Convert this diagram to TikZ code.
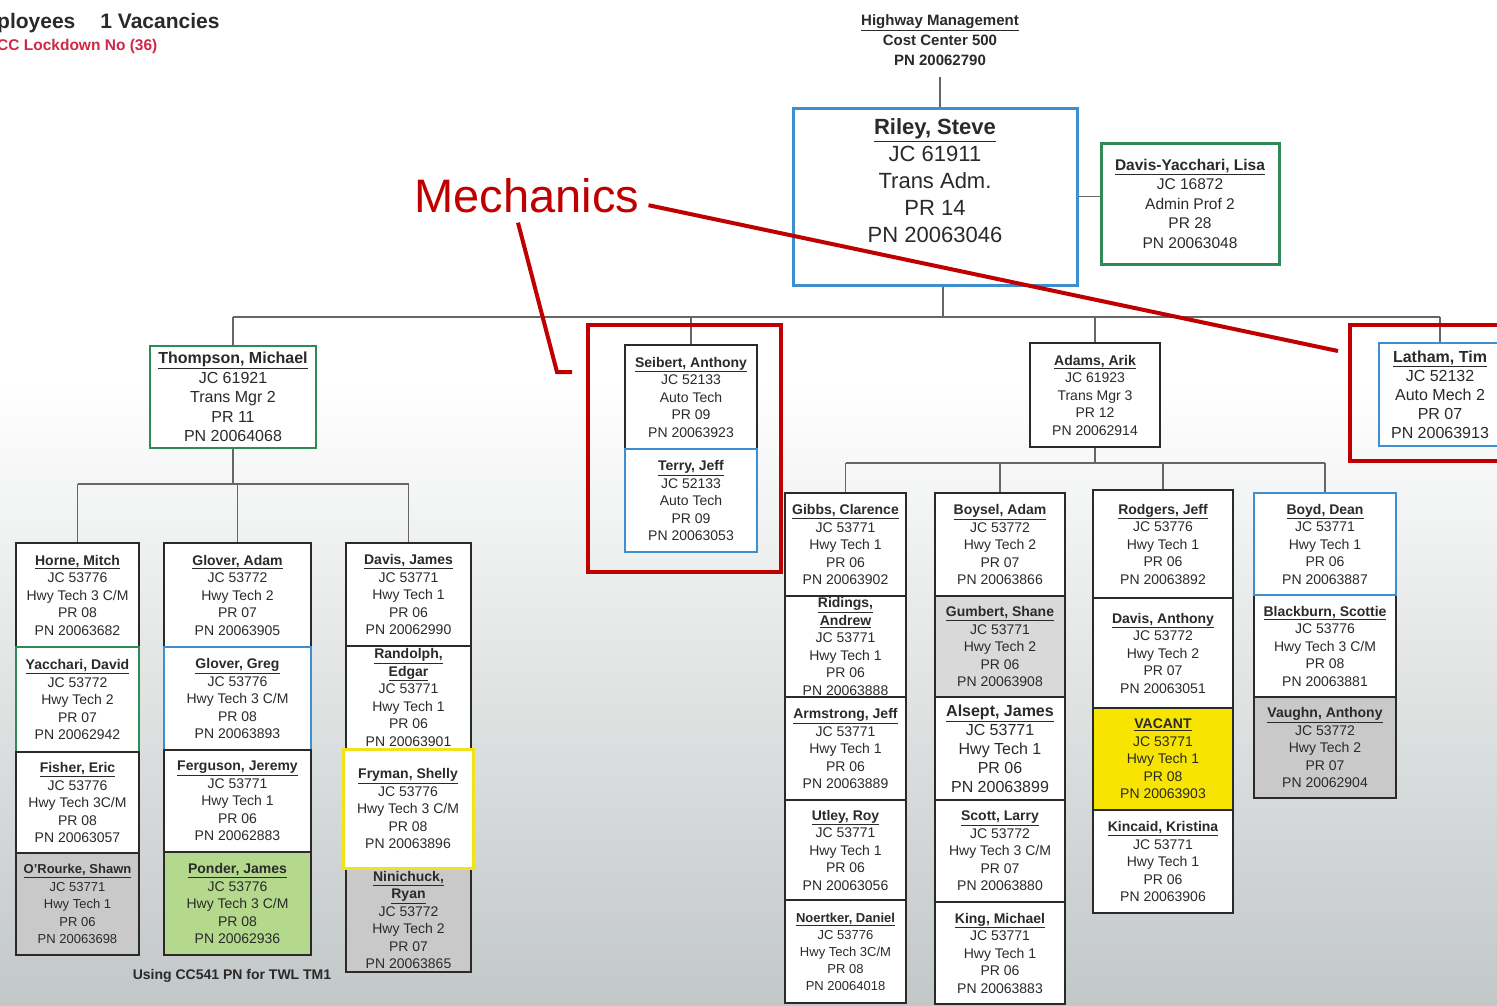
\documentclass[tikz,border=0pt]{standalone}
\usepackage{fontspec}
\setmainfont{Liberation Sans}
\usetikzlibrary{positioning}
\definecolor{boxblue}{HTML}{3D8FD1}
\definecolor{boxgreen}{HTML}{2E8B57}
\definecolor{boxyellow}{HTML}{F2E21C}
\definecolor{vacantfill}{HTML}{F7E400}
\definecolor{greenfill}{HTML}{B5D98C}
\definecolor{greyfill}{HTML}{C9C9C9}
\definecolor{markred}{HTML}{C00000}
\definecolor{bggrey}{HTML}{C2C7C7}
\definecolor{inkgrey}{HTML}{2A2A2A}
\definecolor{lockred}{HTML}{D02848}
\newcommand{\nm}[1]{\textbf{\underline{#1}}}
\tikzset{
    person/.style={
        rectangle, draw=inkgrey, line width=2.5pt,
        fill=white, inner sep=0pt, align=center, text=inkgrey,
        font=\fontsize{14}{17.5}\selectfont
    },
    bluebox/.style={person, draw=boxblue},
    greenbox/.style={person, draw=boxgreen},
    yellowbox/.style={person, draw=boxyellow, line width=3pt},
    greybox/.style={person, fill=greyfill},
    link/.style={draw=black!60, line width=1.2pt},
    frame/.style={rectangle, draw=markred, line width=4pt, inner sep=0pt},
    pointer/.style={draw=markred, line width=4pt}
}

\begin{document}
\begin{tikzpicture}[x=1pt, y=-1pt]

% Page
\clip (0,0) rectangle (1497,1005);
\fill[white] (0,0) rectangle (1497,1005);
\shade[top color=white, bottom color=bggrey] (0,380) rectangle (1497,1005);

% Heading
\node[font=\bfseries\fontsize{21}{25}\selectfont, text=inkgrey, anchor=base west, inner sep=0pt] (count) at (-3,28) {ployees\hspace{25pt}1 Vacancies};
\node[font=\bfseries\fontsize{15.5}{18}\selectfont, text=lockred, anchor=base west, inner sep=0pt] (lock) at (-3,50) {CC Lockdown No (36)};
\node[font=\bfseries\fontsize{15}{20}\selectfont, text=inkgrey, align=center] (hdr) at (940,40) {\underline{Highway Management}\\Cost Center 500\\PN 20062790};

% Administrator
\node[person, draw=boxblue, line width=3pt, minimum width=284pt, minimum height=177pt] (riley) at (935,196.5) {};
\node[align=center, text=inkgrey, font=\fontsize{22}{27}\selectfont] at (935,181) {\nm{Riley, Steve}\\JC 61911\\Trans Adm.\\PR 14\\PN 20063046};
\node[greenbox, line width=3pt, minimum width=178pt, minimum height=121pt, font=\fontsize{15.5}{19.5}\selectfont] (davisY) at (1190,203.5) {\nm{Davis-Yacchari, Lisa}\\JC 16872\\Admin Prof 2\\PR 28\\PN 20063048};

\draw[link] ([yshift=-8pt]hdr.south) -- (hdr.south |- riley.north);
\draw[link] (riley.east) -- (riley.east -| davisY.west);

% Managers
\coordinate (topbar) at (943,317);
\node[greenbox, minimum width=166pt, minimum height=102pt, font=\fontsize{16}{19.5}\selectfont] (thompson) at (233,397) {\nm{Thompson, Michael}\\JC 61921\\Trans Mgr 2\\PR 11\\PN 20064068};
\node[person, minimum width=132pt, minimum height=104pt] (seibert) at (691,397) {\nm{Seibert, Anthony}\\JC 52133\\Auto Tech\\PR 09\\PN 20063923};
\node[bluebox, minimum width=132pt, minimum height=103pt] (terry) at (691,500.5) {\nm{Terry, Jeff}\\JC 52133\\Auto Tech\\PR 09\\PN 20063053};
\node[person, minimum width=130pt, minimum height=104pt] (adams) at (1095,395) {\nm{Adams, Arik}\\JC 61923\\Trans Mgr 3\\PR 12\\PN 20062914};
\node[bluebox, minimum width=122pt, minimum height=103pt, font=\fontsize{16}{19}\selectfont] (latham) at (1440,394.5) {\nm{Latham, Tim}\\JC 52132\\Auto Mech 2\\PR 07\\PN 20063913};

\draw[link] (topbar |- riley.south) -- (topbar);
\draw[link] (thompson.north |- topbar) -- (latham.north |- topbar);
\draw[link] (thompson.north |- topbar) -- (thompson.north);
\draw[link] (seibert.north |- topbar) -- (seibert.north);
\draw[link] (adams.north |- topbar) -- (adams.north);
\draw[link] (latham.north |- topbar) -- (latham.north);

% Thompson team
\coordinate (tbar) at (238,484);
\node[person, minimum width=123pt, minimum height=104pt] (horne) at (77.5,595) {\nm{Horne, Mitch}\\JC 53776\\Hwy Tech 3 C/M\\PR 08\\PN 20063682};
\node[greenbox, minimum width=123pt, minimum height=105pt] (yacchari) at (77.5,699.5) {\nm{Yacchari, David}\\JC 53772\\Hwy Tech 2\\PR 07\\PN 20062942};
\node[person, minimum width=123pt, minimum height=101pt] (fisher) at (77.5,802.5) {\nm{Fisher, Eric}\\JC 53776\\Hwy Tech 3C/M\\PR 08\\PN 20063057};
\node[greybox, minimum width=123pt, minimum height=102pt, font=\fontsize{13}{17.5}\selectfont] (orourke) at (77.5,904) {\nm{O'Rourke, Shawn}\\JC 53771\\Hwy Tech 1\\PR 06\\PN 20063698};

\node[person, minimum width=147pt, minimum height=104pt] (gloverA) at (237.5,595) {\nm{Glover, Adam}\\JC 53772\\Hwy Tech 2\\PR 07\\PN 20063905};
\node[bluebox, minimum width=147pt, minimum height=103pt] (gloverG) at (237.5,698.5) {\nm{Glover, Greg}\\JC 53776\\Hwy Tech 3 C/M\\PR 08\\PN 20063893};
\node[person, minimum width=147pt, minimum height=102pt] (ferguson) at (237.5,801) {\nm{Ferguson, Jeremy}\\JC 53771\\Hwy Tech 1\\PR 06\\PN 20062883};
\node[person, fill=greenfill, minimum width=147pt, minimum height=103pt] (ponder) at (237.5,903.5) {\nm{Ponder, James}\\JC 53776\\Hwy Tech 3 C/M\\PR 08\\PN 20062936};

\node[person, minimum width=125pt, minimum height=103pt] (davisJ) at (408.5,594.5) {\nm{Davis, James}\\JC 53771\\Hwy Tech 1\\PR 06\\PN 20062990};
\node[person, minimum width=125pt, minimum height=103pt] (randolph) at (408.5,697.5) {\nm{Randolph,}\\\nm{Edgar}\\JC 53771\\Hwy Tech 1\\PR 06\\PN 20063901};
\node[greybox, minimum width=125pt, minimum height=104pt] (ninichuck) at (408.5,920) {\nm{Ninichuck,}\\\nm{Ryan}\\JC 53772\\Hwy Tech 2\\PR 07\\PN 20063865};
\node[yellowbox, minimum width=130pt, minimum height=119pt] (fryman) at (408,808.5) {\nm{Fryman, Shelly}\\JC 53776\\Hwy Tech 3 C/M\\PR 08\\PN 20063896};

\node[font=\bfseries\fontsize{14}{17}\selectfont, text=inkgrey] (note) at (232,976) {Using CC541 PN for TWL TM1};

\draw[link] (thompson.south) -- (thompson.south |- tbar);
\draw[link] (horne.north |- tbar) -- (davisJ.north |- tbar);
\draw[link] (horne.north |- tbar) -- (horne.north);
\draw[link] (gloverA.north |- tbar) -- (gloverA.north);
\draw[link] (davisJ.north |- tbar) -- (davisJ.north);

% Adams team
\coordinate (abar) at (1095,463);
\node[person, minimum width=121pt, minimum height=103pt] (gibbs) at (845.5,544.5) {\nm{Gibbs, Clarence}\\JC 53771\\Hwy Tech 1\\PR 06\\PN 20063902};
\node[person, minimum width=121pt, minimum height=101pt] (ridings) at (845.5,646.5) {\nm{Ridings,}\\\nm{Andrew}\\JC 53771\\Hwy Tech 1\\PR 06\\PN 20063888};
\node[person, minimum width=121pt, minimum height=103pt] (armstrong) at (845.5,748.5) {\nm{Armstrong, Jeff}\\JC 53771\\Hwy Tech 1\\PR 06\\PN 20063889};
\node[person, minimum width=121pt, minimum height=100pt] (utley) at (845.5,850) {\nm{Utley, Roy}\\JC 53771\\Hwy Tech 1\\PR 06\\PN 20063056};
\node[person, minimum width=121pt, minimum height=103pt, font=\fontsize{13}{17}\selectfont] (noertker) at (845.5,951.5) {\nm{Noertker, Daniel}\\JC 53776\\Hwy Tech 3C/M\\PR 08\\PN 20064018};

\node[person, minimum width=130pt, minimum height=103pt] (boysel) at (1000,544.5) {\nm{Boysel, Adam}\\JC 53772\\Hwy Tech 2\\PR 07\\PN 20063866};
\node[person, fill=black!15, minimum width=130pt, minimum height=101pt] (gumbert) at (1000,646.5) {\nm{Gumbert, Shane}\\JC 53771\\Hwy Tech 2\\PR 06\\PN 20063908};
\node[person, minimum width=130pt, minimum height=103pt, font=\fontsize{16}{19}\selectfont] (alsept) at (1000,748.5) {\nm{Alsept, James}\\JC 53771\\Hwy Tech 1\\PR 06\\PN 20063899};
\node[person, minimum width=130pt, minimum height=102pt] (scott) at (1000,851) {\nm{Scott, Larry}\\JC 53772\\Hwy Tech 3 C/M\\PR 07\\PN 20063880};
\node[person, minimum width=130pt, minimum height=102pt] (king) at (1000,953) {\nm{King, Michael}\\JC 53771\\Hwy Tech 1\\PR 06\\PN 20063883};

\node[person, minimum width=140pt, minimum height=108pt] (rodgers) at (1163,544) {\nm{Rodgers, Jeff}\\JC 53776\\Hwy Tech 1\\PR 06\\PN 20063892};
\node[person, minimum width=140pt, minimum height=110pt] (davisA) at (1163,653) {\nm{Davis, Anthony}\\JC 53772\\Hwy Tech 2\\PR 07\\PN 20063051};
\node[person, fill=vacantfill, minimum width=140pt, minimum height=102pt] (vacant) at (1163,759) {\nm{VACANT}\\JC 53771\\Hwy Tech 1\\PR 08\\PN 20063903};
\node[person, minimum width=140pt, minimum height=103pt] (kincaid) at (1163,861.5) {\nm{Kincaid, Kristina}\\JC 53771\\Hwy Tech 1\\PR 06\\PN 20063906};

\node[person, minimum width=142pt, minimum height=102pt] (blackburn) at (1325,646) {\nm{Blackburn, Scottie}\\JC 53776\\Hwy Tech 3 C/M\\PR 08\\PN 20063881};
\node[greybox, minimum width=142pt, minimum height=101pt] (vaughn) at (1325,747.5) {\nm{Vaughn, Anthony}\\JC 53772\\Hwy Tech 2\\PR 07\\PN 20062904};
\node[bluebox, minimum width=142pt, minimum height=102pt] (boyd) at (1325,544) {\nm{Boyd, Dean}\\JC 53771\\Hwy Tech 1\\PR 06\\PN 20063887};

\draw[link] (adams.south) -- (adams.south |- abar);
\draw[link] (gibbs.north |- abar) -- (boyd.north |- abar);
\draw[link] (gibbs.north |- abar) -- (gibbs.north);
\draw[link] (boysel.north |- abar) -- (boysel.north);
\draw[link] (rodgers.north |- abar) -- (rodgers.north);
\draw[link] (boyd.north |- abar) -- (boyd.north);

% Mechanics call-out
\node[frame, minimum width=193pt, minimum height=247pt] (mechA) at (684.5,448.5) {};
\node[frame, minimum width=160pt, minimum height=136pt] (mechB) at (1430,393) {};
\node[font=\fontsize{47}{50}\selectfont, text=markred, inner sep=0pt, anchor=base] (mech) at (527,212) {Mechanics};
\coordinate (kneeA) at (557,372);
\coordinate (tipA) at (572,372);
\coordinate (tipB) at (1338,351);
\draw[pointer] ([shift={(-9,10)}]mech.south) -- (kneeA) -- (tipA);
\draw[pointer] ([shift={(9,10)}]mech.east) -- (tipB);

\end{tikzpicture}
\end{document}
